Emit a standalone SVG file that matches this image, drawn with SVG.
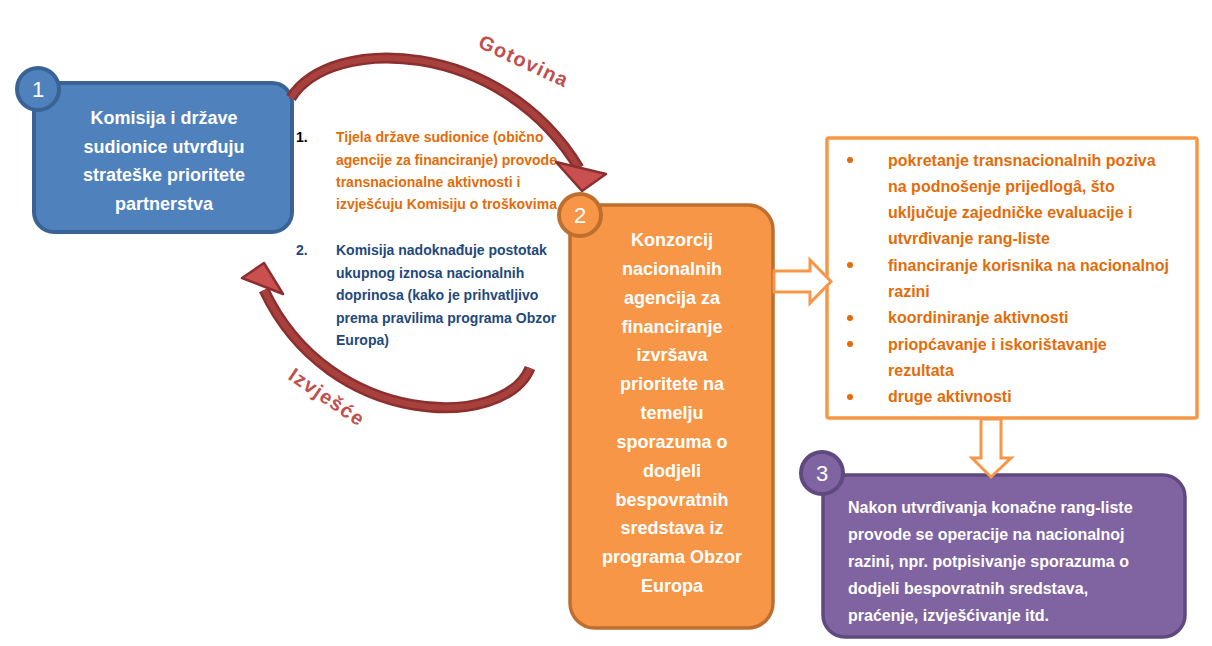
<svg xmlns="http://www.w3.org/2000/svg" width="1212" height="646" viewBox="0 0 1212 646">
<style>
text{font-family:"Liberation Sans",Arial,sans-serif;font-weight:bold}
.wt{fill:#ffffff;font-size:18px}
.num{fill:#ffffff;font-size:22px;font-weight:normal;text-anchor:middle}
.or{fill:#E36C0A;font-size:14px}
.bl{fill:#1F497D;font-size:14px}
.li{fill:#E36C0A;font-size:16px}
.p3{fill:#ffffff;font-size:16px}
.lab{fill:#C0504D;font-size:20px;letter-spacing:1.3px;text-anchor:middle}
.shaftO{fill:none;stroke:#8A302E;stroke-width:11;stroke-linecap:butt}
.shaftI{fill:none;stroke:#A8403E;stroke-width:6;stroke-linecap:butt}
.head{fill:#C9504E;stroke:#8A302E;stroke-width:2.5;stroke-linejoin:round}
.hollow{fill:#ffffff;stroke:#F79646;stroke-width:3;stroke-linejoin:miter}
</style>
<rect width="1212" height="646" fill="#ffffff"/>

<g id="node1">
<rect x="34" y="83" width="258" height="149" rx="20" fill="#4F81BD" stroke="#3A6395" stroke-width="4"/>
<circle cx="38" cy="89" r="21" fill="#4F81BD" stroke="#3A6395" stroke-width="4"/>
<text class="num" x="38" y="97">1</text>
<g class="wt" text-anchor="middle">
<text x="164" y="124">Komisija i države</text>
<text x="164" y="152.5">sudionice utvrđuju</text>
<text x="164" y="181">strateške prioritete</text>
<text x="164" y="209.5">partnerstva</text>
</g>
</g>

<g id="notes">
<text x="296" y="142" font-size="14" fill="#000000">1.</text>
<text class="or" x="336" y="142">Tijela države sudionice (obično</text>
<text class="or" x="336" y="164.5">agencije za financiranje) provode</text>
<text class="or" x="336" y="187">transnacionalne aktivnosti i</text>
<text class="or" x="336" y="209">izvješćuju Komisiju o troškovima</text>
<text class="bl" x="296" y="255">2.</text>
<text class="bl" x="336" y="255">Komisija nadoknađuje postotak</text>
<text class="bl" x="336" y="277.5">ukupnog iznosa nacionalnih</text>
<text class="bl" x="336" y="300">doprinosa (kako je prihvatljivo</text>
<text class="bl" x="336" y="322.5">prema pravilima programa Obzor</text>
<text class="bl" x="336" y="345">Europa)</text>
</g>

<g id="node2">
<rect x="570" y="205" width="203" height="423" rx="25" fill="#F79646" stroke="#BE6E2E" stroke-width="3.5"/>
<circle cx="580" cy="215" r="21" fill="#F79646" stroke="#BE6E2E" stroke-width="4"/>
<text class="num" x="580" y="223">2</text>
<g class="wt" text-anchor="middle">
<text x="672" y="246">Konzorcij</text>
<text x="672" y="274.8">nacionalnih</text>
<text x="672" y="303.7">agencija za</text>
<text x="672" y="332.5">financiranje</text>
<text x="672" y="361.3">izvršava</text>
<text x="672" y="390.2">prioritete na</text>
<text x="672" y="419">temelju</text>
<text x="672" y="447.8">sporazuma o</text>
<text x="672" y="476.7">dodjeli</text>
<text x="672" y="505.5">bespovratnih</text>
<text x="672" y="534.3">sredstava iz</text>
<text x="672" y="563.2">programa Obzor</text>
<text x="672" y="592">Europa</text>
</g>
</g>

<g id="activities">
<rect x="827" y="138" width="370" height="280" rx="2" fill="#ffffff" stroke="#F79646" stroke-width="3.5"/>
<g fill="#E36C0A">
<circle cx="850" cy="160" r="3"/>
<circle cx="850" cy="265" r="3"/>
<circle cx="850" cy="318" r="3"/>
<circle cx="850" cy="344" r="3"/>
<circle cx="850" cy="397" r="3"/>
</g>
<text class="li" x="888" y="165.5">pokretanje transnacionalnih poziva</text>
<text class="li" x="888" y="191.8">na podnošenje prijedlogâ, što</text>
<text class="li" x="888" y="218.1">uključuje zajedničke evaluacije i</text>
<text class="li" x="888" y="244.4">utvrđivanje rang-liste</text>
<text class="li" x="888" y="270.7">financiranje korisnika na nacionalnoj</text>
<text class="li" x="888" y="297">razini</text>
<text class="li" x="888" y="323.3">koordiniranje aktivnosti</text>
<text class="li" x="888" y="349.6">priopćavanje i iskorištavanje</text>
<text class="li" x="888" y="375.9">rezultata</text>
<text class="li" x="888" y="402.2">druge aktivnosti</text>
</g>

<g id="node3">
<rect x="823" y="475" width="362" height="162" rx="22" fill="#8064A2" stroke="#5E4A7E" stroke-width="3.5"/>
<circle cx="822" cy="473" r="21" fill="#8064A2" stroke="#5E4A7E" stroke-width="4"/>
<text class="num" x="822" y="481">3</text>
<text class="p3" x="848" y="513">Nakon utvrđivanja konačne rang-liste</text>
<text class="p3" x="848" y="540">provode se operacije na nacionalnoj</text>
<text class="p3" x="848" y="567">razini, npr. potpisivanje sporazuma o</text>
<text class="p3" x="848" y="594">dodjeli bespovratnih sredstava,</text>
<text class="p3" x="848" y="621">praćenje, izvješćivanje itd.</text>
</g>

<g id="connectors">
<g id="gotovina">
<path class="shaftO" d="M291,98 C330,35 500,38 579,168"/>
<path class="shaftI" d="M291,98 C330,35 500,38 579,168"/>
<polygon class="head" points="556,162 606,174 582,191"/>
<text class="lab" transform="translate(524,61) rotate(25)" x="0" y="7">Gotovina</text>
</g>
<g id="izvjesce">
<path class="shaftO" d="M530,368 C505,430 330,430 264,290"/>
<path class="shaftI" d="M530,368 C505,430 330,430 264,290"/>
<polygon class="head" points="264,263 242,278 283,294"/>
<text class="lab" transform="translate(327,397) rotate(34)" x="0" y="7">Izvješće</text>
</g>
<polygon class="hollow" points="774,271 810,271 810,260 831,281.5 810,303 810,292 774,292"/>
<polygon class="hollow" points="981,419 981,458 972,458 991,477 1011,458 1001,458 1001,419"/>
</g>
</svg>
